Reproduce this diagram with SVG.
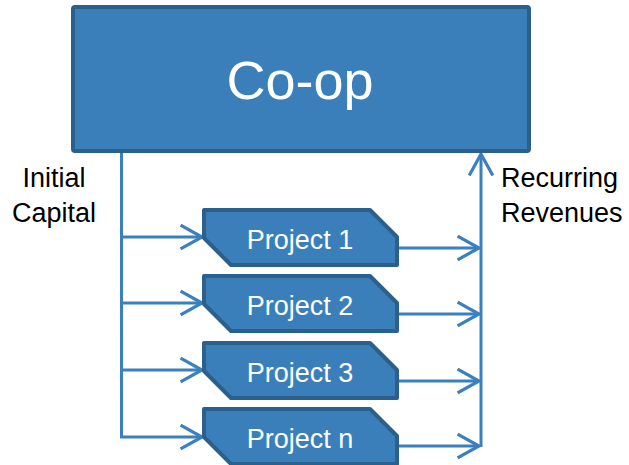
<svg xmlns="http://www.w3.org/2000/svg" width="629" height="465" viewBox="0 0 629 465">
<defs>
<style>
.box{fill:#3B7FBA;stroke:#2B5F8C;stroke-width:4;stroke-linejoin:round}
.wt{fill:#FFFFFF;font-family:"Liberation Sans",Arial,sans-serif;text-anchor:middle}
.lbl{fill:#000000;font-family:"Liberation Sans",Arial,sans-serif;font-size:27px}
.con{fill:none;stroke:#3A80BE;stroke-width:3}
</style>
<marker id="arr" markerUnits="userSpaceOnUse" markerWidth="30" markerHeight="30" viewBox="-24 -14 28 28" refX="0" refY="0" orient="auto">
<path d="M-20,-11 L0,0 L-20,11" fill="none" stroke="#3A80BE" stroke-width="3"/>
</marker>
</defs>
<rect width="629" height="465" fill="#FFFFFF"/>
<g id="connectors">
<path class="con" d="M121.5,153 V437"/>
<path class="con" d="M121.5,237 H202" marker-end="url(#arr)"/>
<path class="con" d="M121.5,303 H202" marker-end="url(#arr)"/>
<path class="con" d="M121.5,370 H202" marker-end="url(#arr)"/>
<path class="con" d="M120,437 H202" marker-end="url(#arr)"/>
<path class="con" d="M399,248 H479" marker-end="url(#arr)"/>
<path class="con" d="M399,314 H479" marker-end="url(#arr)"/>
<path class="con" d="M399,381 H479" marker-end="url(#arr)"/>
<path class="con" d="M399,446 H479" marker-end="url(#arr)"/>
<path class="con" d="M481,447 V154" marker-end="url(#arr)"/>
</g>
<g id="coop">
<rect class="box" x="73" y="7" width="456" height="144" rx="2"/>
<text class="wt" x="300" y="99" font-size="54">Co-op</text>
</g>
<g id="project1">
<path class="box" d="M204,210 H370 L397,237 V265 H231 L204,238 Z"/>
<text class="wt" x="300" y="249" font-size="27">Project 1</text>
</g>
<g id="project2" transform="translate(0,66)">
<path class="box" d="M204,210 H370 L397,237 V265 H231 L204,238 Z"/>
<text class="wt" x="300" y="249" font-size="27">Project 2</text>
</g>
<g id="project3" transform="translate(0,133)">
<path class="box" d="M204,210 H370 L397,237 V265 H231 L204,238 Z"/>
<text class="wt" x="300" y="249" font-size="27">Project 3</text>
</g>
<g id="projectn" transform="translate(0,199)">
<path class="box" d="M204,210 H370 L397,237 V265 H231 L204,238 Z"/>
<text class="wt" x="300" y="249" font-size="27">Project n</text>
</g>
<g id="label-initial">
<text class="lbl" x="54" y="187" text-anchor="middle">Initial</text>
<text class="lbl" x="54" y="222" text-anchor="middle">Capital</text>
</g>
<g id="label-recurring">
<text class="lbl" x="501" y="187">Recurring</text>
<text class="lbl" x="501" y="222">Revenues</text>
</g>
</svg>
